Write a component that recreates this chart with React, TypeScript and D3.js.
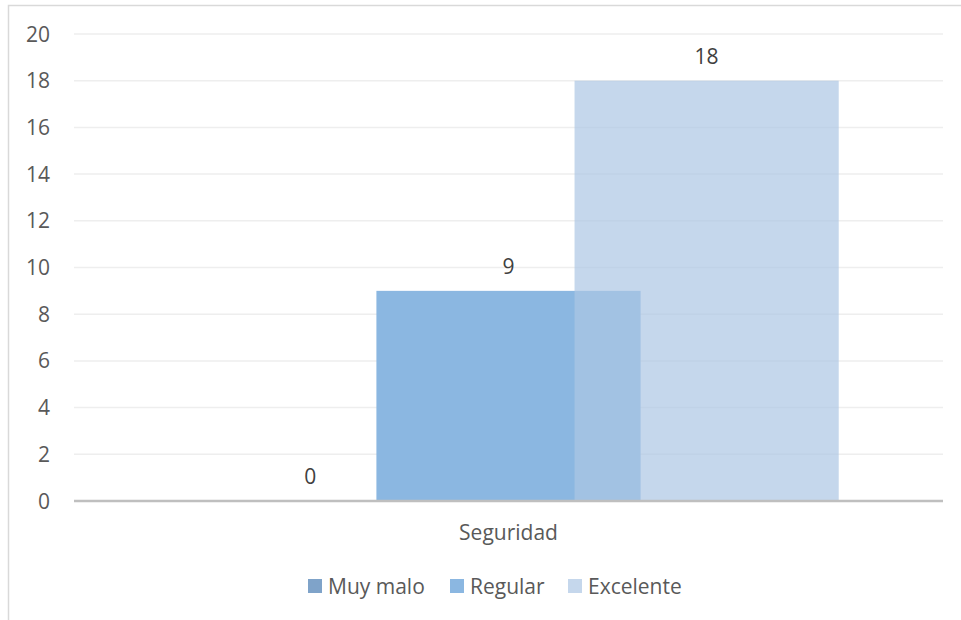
import { scaleBand, scaleLinear } from "d3";

const categories = ["Seguridad"];
const seriesNames = ["Muy malo", "Regular", "Excelente"];
const seriesValues = [[0], [9], [18]];
const yTicks = [0, 2, 4, 6, 8, 10, 12, 14, 16, 18, 20];

const seriesFill = ["#7fa3c9", "#8bb7e1", "rgb(172,198,228)"];
const seriesOpacity = [1, 1, 0.7];
const legendX = [308, 450, 568];

export default function App() {
  const width = 961;
  const height = 620;
  const margin = { top: 34, right: 18, bottom: 119, left: 74 };
  const innerWidth = width - margin.left - margin.right;
  const innerHeight = height - margin.top - margin.bottom;

  const catScale = scaleBand<string>().domain(categories).range([0, innerWidth]);
  const y = scaleLinear().domain([0, 20]).range([innerHeight, 0]);

  // bars overlap: each bar is 264 wide, stepping 198
  const barWidth = innerWidth * 0.304;
  const barStep = barWidth * 0.75;
  const font = "'Open Sans', sans-serif";
  const fs = 21;

  return (
    <div style={{ position: "absolute", left: 0, top: 0 }}>
      <svg width={width} height={height} style={{ display: "block", fontFamily: font }}>
        <rect x={0} y={0} width={width} height={height} fill="#fff" />
        <rect x={8.5} y={5.5} width={width + 10} height={height + 10} fill="none" stroke="#d9d9d9" strokeWidth={1.5} />
        <g transform={`translate(${margin.left}, ${margin.top})`}>
          {yTicks.map((t) => (
            <g key={t}>
              {t !== 0 && (
                <line x1={0} x2={innerWidth} y1={y(t)} y2={y(t)} stroke="#eeeeee" strokeWidth={1.5} />
              )}
              <text x={-24} y={y(t) + 7.5} textAnchor="end" fontSize={fs} fill="#595959">
                {t}
              </text>
            </g>
          ))}

          {categories.map((cat, ci) => {
            const center = (catScale(cat) ?? 0) + catScale.bandwidth() / 2;
            return (
              <g key={cat}>
                {seriesNames.map((name, si) => {
                  const v = seriesValues[si][ci];
                  const cx = center + (si - 1) * barStep;
                  return (
                    <g key={name}>
                      <rect
                        x={cx - barWidth / 2}
                        y={y(v)}
                        width={barWidth}
                        height={innerHeight - y(v)}
                        fill={seriesFill[si]}
                        fillOpacity={seriesOpacity[si]}
                      />
                      <text x={cx} y={y(v) - 17} textAnchor="middle" fontSize={fs} fill="#404040">
                        {v}
                      </text>
                    </g>
                  );
                })}
                <text x={center} y={innerHeight + 39} textAnchor="middle" fontSize={fs} fill="#595959">
                  {cat}
                </text>
              </g>
            );
          })}

          <line x1={0} x2={innerWidth} y1={innerHeight} y2={innerHeight} stroke="#bfbfbf" strokeWidth={2.5} />
        </g>

        <g>
          {seriesNames.map((name, si) => (
            <g key={name} transform={`translate(${legendX[si]}, 579)`}>
              <rect x={0} y={0} width={14} height={14} fill={seriesFill[si]} fillOpacity={seriesOpacity[si]} />
              <text x={20} y={14.5} fontSize={fs} fill="#595959">
                {name}
              </text>
            </g>
          ))}
        </g>
      </svg>
    </div>
  );
}
